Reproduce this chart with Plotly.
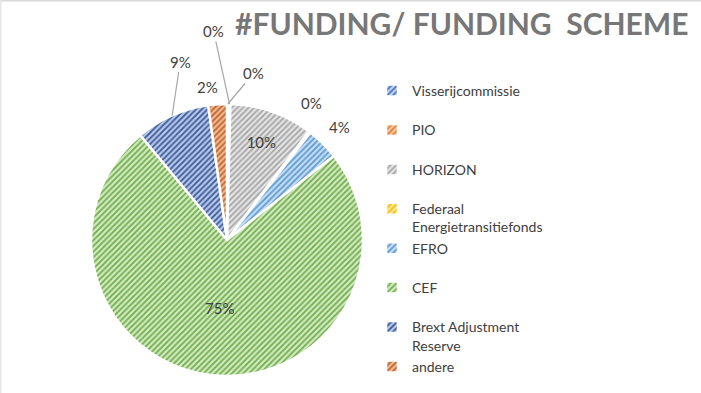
import math
import plotly.graph_objects as go

categories = ["Visserijcommissie", "PIO", "HORIZON", "Federaal<br>Energietransitiefonds",
              "EFRO", "CEF", "Brext Adjustment<br>Reserve", "andere"]
values = [0.2, 0.2, 9.9, 0.2, 3.9, 74.6, 8.8, 2.2]
stripe_colors = ["#4472C4", "#ED7D31", "#A5A5A5", "#FFC000", "#5B9BD5", "#70AD47", "#3B5A9A", "#C0652A"]
bg_colors = ["#C5D3EE", "#F6C9A8", "#E4E4E4", "#FFE8A0", "#C7DDF2", "#D3EAC5", "#B8C8E8", "#F2B894"]
legend_labels = [c if "<br>" in c else c + "<br> " for c in categories]
legend_labels[-1] = categories[-1]
# inside labels drawn by the pie; outside labels drawn as annotations below
text_positions = ["none", "none", "inside", "none", "none", "inside", "none", "none"]

W, H = 701, 393
dom_x = [91 / W, 363 / W]
dom_y = [1 - 376 / H, 1 - 104 / H]

fig = go.Figure(go.Pie(
    labels=legend_labels,
    values=values,
    sort=False,
    direction="clockwise",
    rotation=0,
    marker=dict(colors=stripe_colors,
                line=dict(color="white", width=2.5),
                pattern=dict(shape="/", size=4, solidity=0.45,
                             fgcolor=stripe_colors, bgcolor=bg_colors)),
    texttemplate="%{percent:.0%}",
    textposition=text_positions,
    textfont=dict(family="Lato", size=15, color="#404040"),
    insidetextorientation="horizontal",
    domain=dict(x=dom_x, y=dom_y),
    hoverinfo="label+percent",
))

# outside labels, anchored to each slice's mid-angle on the rim (computed from the data)
total = sum(values)
cx = (dom_x[0] + dom_x[1]) / 2 * W
cy = (1 - (dom_y[0] + dom_y[1]) / 2) * H
r = (dom_x[1] - dom_x[0]) * W / 2
label_offsets = {  # index: (dx, dy, leader line)
    0: (26, -31, True),
    1: (-16, -73, True),
    3: (2, -29, False),
    4: (17, -17, False),
    6: (8, -54, True),
    7: (-10, -17, False),
}
annotations = []
cum = 0.0
for i, v in enumerate(values):
    mid = (cum + v / 2) / total * 2 * math.pi
    cum += v
    if i in label_offsets:
        px = cx + r * math.sin(mid)
        py = cy - r * math.cos(mid)
        ax, ay, line = label_offsets[i]
        ann = dict(x=px / W, y=1 - py / H, xref="paper", yref="paper",
                   text=f"{round(v / total * 100)}%",
                   font=dict(family="Lato", size=15, color="#404040"))
        if line:
            ann.update(showarrow=True, arrowhead=0, arrowwidth=1.2,
                       arrowcolor="#A6A6A6", ax=ax, ay=ay)
        else:
            ann.update(showarrow=False, xanchor="center", yanchor="middle",
                       xshift=ax, yshift=-ay)
        annotations.append(ann)

annotations.append(dict(text="<b>#FUNDING/ FUNDING  SCHEME</b>", x=690 / W, y=1.0,
                        xref="paper", yref="paper", xanchor="right", yanchor="top",
                        yshift=-3, showarrow=False,
                        font=dict(family="Lato", size=30, color="#777777")))

fig.update_layout(
    width=W, height=H,
    margin=dict(l=0, r=0, t=0, b=0),
    paper_bgcolor="white",
    plot_bgcolor="white",
    font=dict(family="Lato", color="#404040"),
    showlegend=True,
    legend=dict(x=372 / W, y=1 - 75 / H, xanchor="left", yanchor="top",
                font=dict(family="Lato", size=14, color="#404040"),
                valign="top", itemwidth=30, tracegroupgap=0),
    annotations=annotations,
    shapes=[dict(type="line", xref="paper", yref="paper", x0=0, x1=1, y0=1, y1=1,
                 line=dict(color="#D9D9D9", width=3)),
            dict(type="line", xref="paper", yref="paper", x0=0, x1=0, y0=0, y1=1,
                 line=dict(color="#E6E6E6", width=3))],
)

fig.write_html("out.html", config={"displayModeBar": False},
               post_script="document.body.style.margin='0';")
